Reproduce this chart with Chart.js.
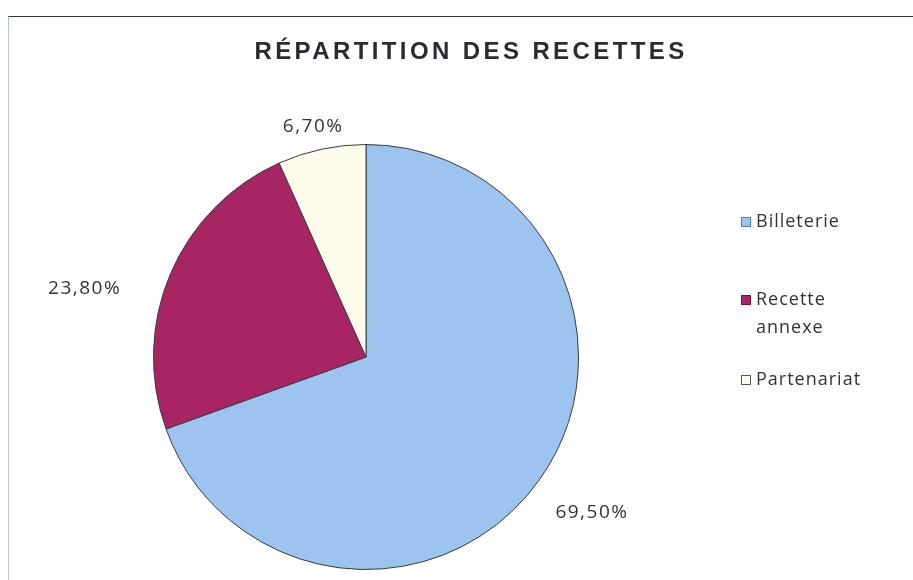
<!DOCTYPE html>
<html>
<head>
<meta charset="utf-8">
<script src="https://cdn.jsdelivr.net/npm/chart.js@4/dist/chart.umd.min.js"></script>
<style>
  html, body { margin: 0; padding: 0; background: #fff; }
  #wrap { position: relative; width: 913px; height: 580px; }
  #frame { position: absolute; left: 8px; top: 16px; right: -2px; bottom: -2px;
           border-top: 1.5px solid #2c3450; border-left: 1px solid #b7c4d6; }
</style>
</head>
<body>
<div id="wrap">
  <canvas id="myChart" width="913" height="580"></canvas>
  <div id="frame"></div>
</div>
<script>
// données du graphique
var chartTitle = 'RÉPARTITION DES RECETTES';
var categories = ['Billeterie', 'Recette annexe', 'Partenariat'];
var legendLines = [['Billeterie'], ['Recette', 'annexe'], ['Partenariat']];
var shares = [69.5, 23.8, 6.7];
var shareLabels = ['69,50%', '23,80%', '6,70%'];

var sliceColors = ['#9dc4ef', '#a82563', '#fdfbe9'];
var legendBorders = ['#4f7fb8', '#6d1238', '#555555'];
// petits décalages des étiquettes (placement "ajustement optimal" d'Excel)
var labelNudge = [[14, 22], [-43, 22], [0, -4]];

var pieExtras = {
  id: 'pieExtras',
  afterDraw: function (chart) {
    var ctx = chart.ctx;
    ctx.save();

    // titre
    ctx.fillStyle = '#2b2b33';
    ctx.font = 'bold 24px "Liberation Sans", Arial, sans-serif';
    ctx.letterSpacing = '3.4px';
    ctx.textAlign = 'center';
    ctx.textBaseline = 'middle';
    ctx.fillText(chartTitle, 471, 52);

    // étiquettes de pourcentage
    ctx.font = '19px "Open Sans", sans-serif';
    ctx.letterSpacing = '1.5px';
    ctx.fillStyle = '#333333';
    var arcs = chart.getDatasetMeta(0).data;
    arcs.forEach(function (arc, i) {
      var p = arc.getProps(['x', 'y', 'startAngle', 'endAngle', 'outerRadius'], true);
      var mid = (p.startAngle + p.endAngle) / 2;
      var dx = Math.cos(mid), dy = Math.sin(mid);
      var w = ctx.measureText(shareLabels[i]).width, h = 18;
      var ax = p.x + dx * (p.outerRadius + 10) + dx * w / 2 + labelNudge[i][0];
      var ay = p.y + dy * (p.outerRadius + 10) + dy * h / 2 + labelNudge[i][1];
      ctx.fillText(shareLabels[i], ax, ay);
    });

    // légende
    ctx.textAlign = 'left';
    ctx.font = '18px "Open Sans", sans-serif';
    ctx.letterSpacing = '1px';
    var ys = [222, 300, 380];
    categories.forEach(function (c, i) {
      ctx.fillStyle = sliceColors[i];
      ctx.fillRect(741, ys[i] - 5, 10, 10);
      ctx.strokeStyle = legendBorders[i];
      ctx.lineWidth = 1;
      ctx.strokeRect(741.5, ys[i] - 4.5, 9, 9);
      ctx.fillStyle = '#333333';
      legendLines[i].forEach(function (line, k) {
        ctx.fillText(line, 756, ys[i] + k * 28);
      });
    });
    ctx.restore();
  }
};

var ctx = document.getElementById('myChart').getContext('2d');
var myChart = new Chart(ctx, {
  type: 'pie',
  data: {
    labels: categories,
    datasets: [{
      data: shares,
      backgroundColor: sliceColors,
      borderColor: '#3a3a44',
      borderWidth: 1
    }]
  },
  options: {
    responsive: false,
    animation: false,
    layout: { padding: { top: 144, bottom: 10, left: 153, right: 334 } },
    plugins: {
      legend: { display: false },
      title: { display: false },
      tooltip: { enabled: false }
    }
  },
  plugins: [pieExtras]
});
</script>
</body>
</html>
